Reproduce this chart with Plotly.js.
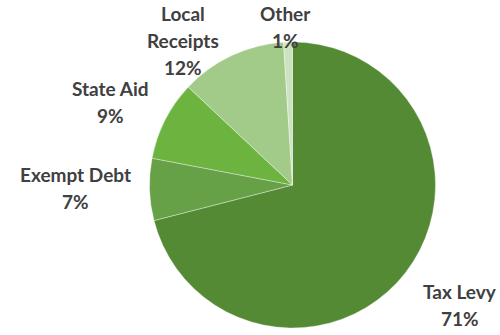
<!DOCTYPE html>
<html>
<head>
<meta charset="utf-8">
<script src="https://cdn.plot.ly/plotly-3.0.1.min.js"></script>
<style>html,body{margin:0;padding:0;background:#fff;}#chart{width:500px;height:335px;}</style>
</head>
<body>
<div id="chart"></div>
<script>
const categories = ["Tax Levy", "Exempt Debt", "State Aid", "Local Receipts", "Other"];
const labelLines = [["Tax Levy"], ["Exempt Debt"], ["State Aid"], ["Local", "Receipts"], ["Other"]];
const values = [71, 7, 9, 12, 1];
const colors = ["#558a35", "#66a047", "#6db33f", "#a2cb89", "#cde2c0"];

// label placement (pixel centre of the label block) – layout only
const labelPos = [
  {x: 460, y: 304.5},
  {x: 75, y: 187.5},
  {x: 110, y: 101.5},
  {x: 183, y: 40.5},
  {x: 285, y: 27}
];
const lineGap = 27;

const W = 500, H = 335;
const total = values.reduce((a, b) => a + b, 0);
const annotations = [];
categories.forEach((c, i) => {
  const lines = labelLines[i].concat([Math.round(values[i] / total * 100) + "%"]);
  const n = lines.length;
  lines.forEach((t, k) => {
    const py = labelPos[i].y + (k - (n - 1) / 2) * lineGap;
    annotations.push({
      x: labelPos[i].x / W,
      y: 1 - py / H,
      xref: "paper", yref: "paper",
      xanchor: "center", yanchor: "middle",
      showarrow: false,
      text: t,
      font: {family: "Lato, 'Open Sans', sans-serif", size: 19, color: "#404040", weight: "bold"}
    });
  });
});

const trace = {
  type: "pie",
  labels: categories,
  values: values,
  sort: false,
  direction: "clockwise",
  rotation: 0,
  textinfo: "none",
  hoverinfo: "label+percent",
  marker: {colors: colors, line: {color: "rgba(255,255,255,0.45)", width: 0.8}},
  domain: {x: [149 / W, 436 / W], y: [(H - 328) / H, (H - 42) / H]},
  showlegend: false
};

const layout = {
  width: W, height: H,
  margin: {l: 0, r: 0, t: 0, b: 0},
  paper_bgcolor: "#ffffff",
  plot_bgcolor: "#ffffff",
  showlegend: false,
  annotations: annotations
};

Plotly.newPlot("chart", [trace], layout, {displayModeBar: false, staticPlot: true});
</script>
</body>
</html>
